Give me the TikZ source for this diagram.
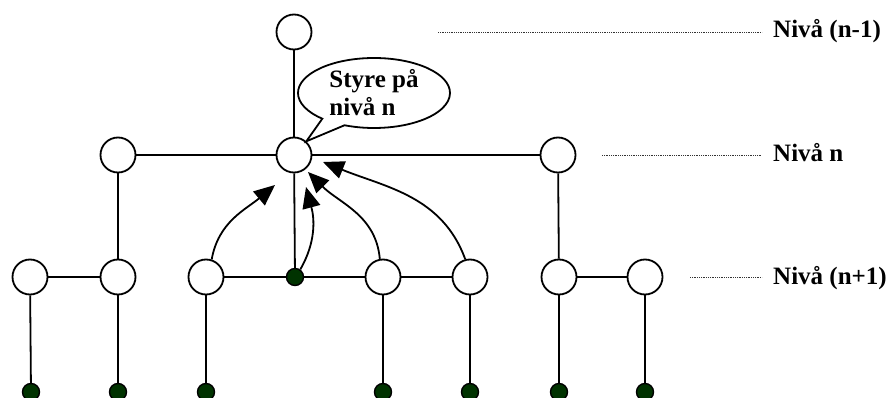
\documentclass[tikz,border=0pt]{standalone}
\usepackage{fontspec}
\setmainfont{Liberation Serif}
\usetikzlibrary{arrows.meta,shapes.callouts}
\definecolor{dotgreen}{RGB}{0,51,0}
\tikzset{
  circ/.style={circle,draw,fill=white,line width=1.8pt,minimum size=35pt,inner sep=0pt},
  gdot/.style={circle,draw,fill=dotgreen,line width=1.4pt,minimum size=17pt,inner sep=0pt},
  edge/.style={line width=1.8pt},
  arr/.style={line width=1.8pt,-{Triangle[length=21pt,width=18pt]}},
  lvl/.style={line width=0.8pt,dash pattern=on 0.9pt off 0.9pt,black!80},
  lab/.style={anchor=base west,inner sep=0pt,font=\fontsize{25}{28}\selectfont\bfseries}
}
\begin{document}
\begin{tikzpicture}[x=1pt,y=-1pt]
\useasboundingbox (0,0) rectangle (889,398);
% level n-1
\node[circ] (t) at (294,32) {};
% level n
\node[circ] (L) at (118,155) {};
\node[circ] (C) at (294,155) {};
\node[circ] (R) at (558,155) {};
% level n+1
\node[circ] (a1) at (30,277) {};
\node[circ] (a2) at (118,277) {};
\node[circ] (a3) at (206,277) {};
\node[gdot] (g) at (295,277) {};
\node[circ] (a4) at (383,277) {};
\node[circ] (a5) at (470,277) {};
\node[circ] (a6) at (559,277) {};
\node[circ] (a7) at (645,277) {};
% bottom dots
\node[gdot] (b1) at (31,392) {};
\node[gdot] (b2) at (118,392) {};
\node[gdot] (b3) at (206,392) {};
\node[gdot] (b4) at (383,392) {};
\node[gdot] (b5) at (470,392) {};
\node[gdot] (b6) at (559,392) {};
\node[gdot] (b7) at (645,392) {};
% edges
\draw[edge] (t) -- (C);
\draw[edge] (L) -- (C);
\draw[edge] (C) -- (R);
\draw[edge] (L) -- (a2);
\draw[edge] (C) -- (g);
\draw[edge] (R) -- (a6);
\draw[edge] (a1) -- (a2);
\draw[edge] (a3) -- (g);
\draw[edge] (g) -- (a4);
\draw[edge] (a4) -- (a5);
\draw[edge] (a6) -- (a7);
\draw[edge] (a1) -- (b1);
\draw[edge] (a2) -- (b2);
\draw[edge] (a3) -- (b3);
\draw[edge] (a4) -- (b4);
\draw[edge] (a5) -- (b5);
\draw[edge] (a6) -- (b6);
\draw[edge] (a7) -- (b7);
% arrows
\coordinate (p1) at (275,185);
\coordinate (p2) at (306,187);
\coordinate (p3) at (308,172);
\coordinate (p4) at (323,162);
\draw[arr] (a3.72) to[out=80,in=-140] (p1);
\draw[arr] (g.55) to[out=60,in=-75] (p2);
\draw[arr] (a4.100) to[out=95,in=-45] (p3);
\draw[arr] (a5.105) to[out=110,in=-22] (p4);
% callout
\node[ellipse callout,draw,fill=white,line width=1.8pt,minimum width=152pt,minimum height=70pt,inner sep=0pt,
      callout absolute pointer={(C.48)},callout pointer arc=20,
      align=left,font=\fontsize{25}{28}\selectfont\bfseries] (bub) at (374,93) {Styre på\\nivå n};
% level labels
\node[lab] (l1) at (773,38) {Nivå (n-1)};
\node[lab] (l2) at (773,162) {Nivå n};
\node[lab] (l3) at (773,284) {Nivå (n+1)};
\coordinate (s1) at (438,32);
\coordinate (e1) at (762,32);
\coordinate (s2) at (602,155);
\coordinate (e2) at (762,155);
\coordinate (s3) at (690,277);
\coordinate (e3) at (762,277);
\draw[lvl] (s1) -- (e1);
\draw[lvl] (s2) -- (e2);
\draw[lvl] (s3) -- (e3);
\end{tikzpicture}
\end{document}
